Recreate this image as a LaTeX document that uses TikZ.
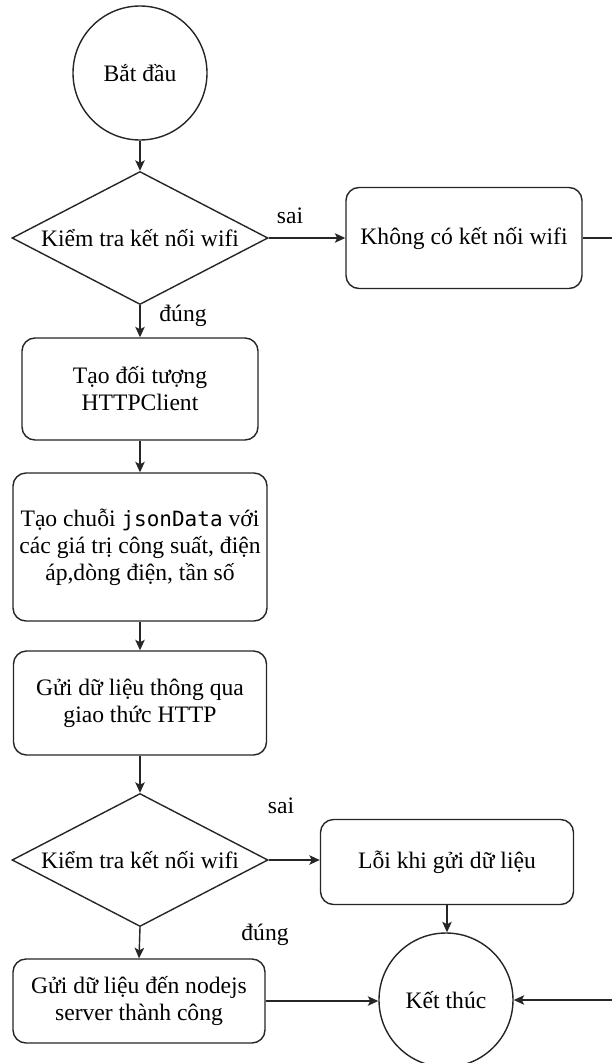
\documentclass[tikz,border=0pt]{standalone}
\usepackage{fontspec}
\setmainfont{Liberation Serif}
\newfontfamily\codefont{DejaVu Sans Mono}
\usetikzlibrary{shapes.geometric,arrows.meta}

\begin{document}
\begin{tikzpicture}[x=1pt,y=-1pt,
  every node/.style={font=\fontsize{23.6}{27}\selectfont, text=black},
  line/.style={line width=1.4pt, draw=black!85},
  flow/.style={line, -{Stealth[length=10.5pt,width=9.5pt,inset=2.5pt]}},
  terminal/.style={circle, draw=black!85, line width=1.4pt, minimum size=134pt, inner sep=0pt},
  decision/.style={diamond, draw=black!85, line width=1.4pt, aspect=1.93, inner sep=0pt,
                   minimum width=256pt, minimum height=133pt},
  process/.style={rectangle, rounded corners=13pt, draw=black!85, line width=1.4pt,
                  align=center, inner sep=0pt},
  lbl/.style={inner sep=0pt}]
\useasboundingbox (0,0) rectangle (611,1063);
\fill[white] (0,0) rectangle (611,1063);

% main column
\node[terminal] (start) at (140,73) {Bắt đầu};
\node[decision] (check1) at (140,238) {Kiểm tra kết nối wifi};
\node[process, minimum width=236pt, minimum height=101pt] (nowifi) at (464,238) {Không có kết nối wifi};
\node[process, minimum width=236pt, minimum height=102pt] (client) at (140,389) {Tạo đối tượng\\HTTPClient};
\node[process, minimum width=254pt, minimum height=148pt] (json) at (140,547)
  {Tạo chuỗi {\codefont\fontsize{21}{27}\selectfont jsonData} với\\các giá trị công suất, điện\\áp,dòng điện, tần số};
\node[process, minimum width=253pt, minimum height=104pt] (send) at (140,703) {Gửi dữ liệu thông qua\\giao thức HTTP};
\node[decision] (check2) at (140,860) {Kiểm tra kết nối wifi};
\node[process, minimum width=253pt, minimum height=85pt] (error) at (447,862) {Lỗi khi gửi dữ liệu};
\node[process, minimum width=252pt, minimum height=84pt] (success) at (139,1001) {Gửi dữ liệu đến nodejs\\server thành công};
\node[terminal] (finish) at (446,1000) {Kết thúc};

% branch labels
\node[lbl] (sai1) at (290,216) {sai};
\node[lbl] (dung1) at (183,316) {đúng};
\node[lbl] (sai2) at (281,806) {sai};
\node[lbl] (dung2) at (265,935) {đúng};

% return path along the right border
\coordinate (edgeTop) at (614,238);
\coordinate (edgeBottom) at (614,1000);

% connectors
\draw[flow] (start) -- (check1);
\draw[flow] (check1.east) -- (nowifi.west);
\draw[flow] (check1.south) -- (client.north);
\draw[flow] (client) -- (json);
\draw[flow] (json) -- (send);
\draw[flow] (send) -- (check2);
\draw[flow] (check2.east) -- (check2.east -| error.west);
\draw[flow] (check2.south) -- (success.north);
\draw[flow] (error.south) -- (error.south |- finish.north);
\draw[flow] (success.east) -- (success.east -| finish.west);
\draw[flow] (nowifi.east) -- (edgeTop) -- (edgeBottom) -- (finish.east);
\end{tikzpicture}
\end{document}
